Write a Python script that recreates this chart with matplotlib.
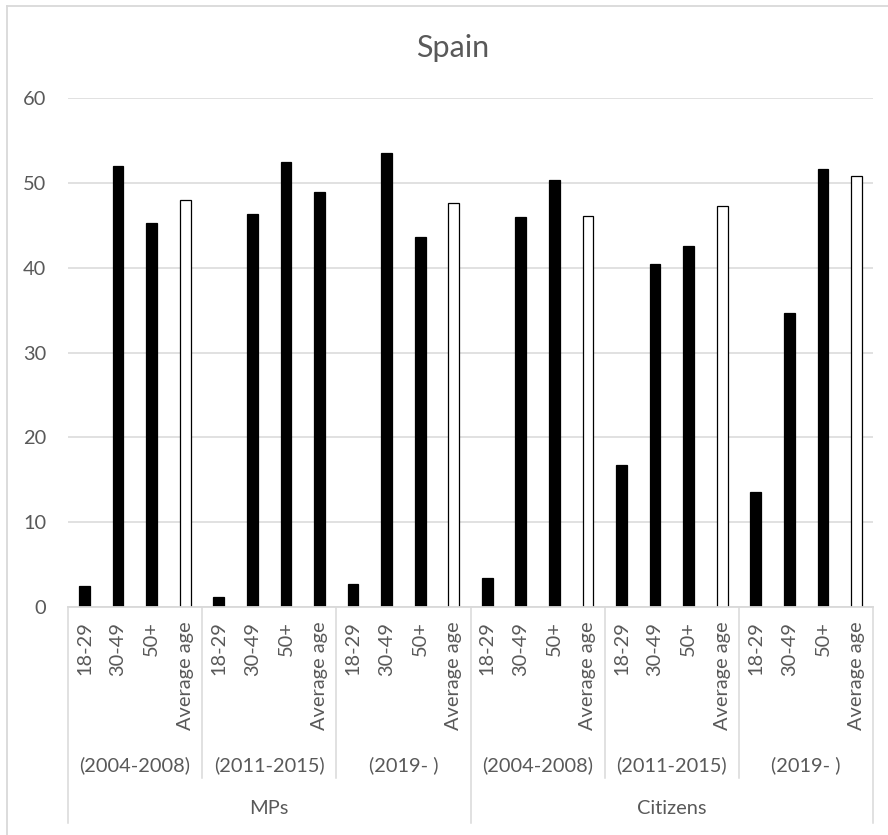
import matplotlib
matplotlib.use("Agg")
import matplotlib.pyplot as plt
import matplotlib.transforms as mtransforms
from matplotlib.lines import Line2D
import numpy as np

# ---- data ----
groups = ["MPs", "Citizens"]
periods = ["(2004-2008)", "(2011-2015)", "(2019- )"]
age_bands = ["18-29", "30-49", "50+", "Average age"]

mps_2004 = [2.5, 52.0, 45.3, 48.0]
mps_2011 = [1.1, 46.3, 52.5, 49.0]
mps_2019 = [2.7, 53.6, 43.6, 47.7]
cit_2004 = [3.4, 46.0, 50.4, 46.1]
cit_2011 = [16.7, 40.5, 42.6, 47.3]
cit_2019 = [13.5, 34.7, 51.6, 50.8]

y_ticks = [0, 10, 20, 30, 40, 50, 60]

series = {
    "MPs": [mps_2004, mps_2011, mps_2019],
    "Citizens": [cit_2004, cit_2011, cit_2019],
}
# average-age bars drawn solid rather than hollow
solid_average = {("MPs", "(2011-2015)")}

# ---- figure ----
W, H = 888, 835
fig = plt.figure(figsize=(W / 100, H / 100), dpi=100)
FONT = "Lato"
TXT = "#595959"
GRID = "#D9D9D9"

def fy(py):
    return 1 - py / H

x0, x1 = 67.7, 873.3
y_zero, y_top = 606.7, 98.3
ax = fig.add_axes([x0 / W, fy(y_zero), (x1 - x0) / W, (y_zero - y_top) / H])

values, faces, labels = [], [], []
for g in groups:
    for p, vals in zip(periods, series[g]):
        for band, v in zip(age_bands, vals):
            values.append(v)
            labels.append(band)
            if band == "Average age" and (g, p) not in solid_average:
                faces.append("white")
            else:
                faces.append("black")

n = len(values)
xs = np.arange(n)
ax.bar(xs, values, width=0.32, color=faces, edgecolor="black",
       linewidth=0.9, zorder=3)

ax.set_xlim(-0.5, n - 0.5)
ax.set_ylim(0, 60)
ax.set_yticks(y_ticks)
ax.set_yticklabels([str(t) for t in y_ticks], fontfamily=FONT,
                   fontsize=14.4, color=TXT)
ax.tick_params(axis="y", length=0, pad=15.5)
ax.set_xticks([])
for s in ax.spines.values():
    s.set_visible(False)
ax.grid(axis="y", color=GRID, linewidth=1.1, zorder=0)
ax.set_axisbelow(True)

# ---- multi-level category axis ----
bt = mtransforms.blended_transform_factory(ax.transData, fig.transFigure)

ax.add_line(Line2D([-0.5, n - 0.5], [fy(y_zero)] * 2, transform=bt,
                   color=GRID, linewidth=1.3, clip_on=False, zorder=4))

for x, lab in zip(xs, labels):
    ax.text(x, fy(621.5), lab, transform=bt, rotation=90, ha="center",
            va="top", fontfamily=FONT, fontsize=14.4, color=TXT)

per_group = len(periods) * len(age_bands)
for gi, g in enumerate(groups):
    g_start = gi * per_group - 0.5
    ax.text(g_start + per_group / 2, fy(808), g, transform=bt, ha="center",
            va="center", fontfamily=FONT, fontsize=14.4, color=TXT)
    for pi, p in enumerate(periods):
        p_start = g_start + pi * len(age_bands)
        ax.text(p_start + len(age_bands) / 2, fy(765), p, transform=bt,
                ha="center", va="center", fontfamily=FONT, fontsize=14.4,
                color=TXT)
        if pi > 0:
            ax.add_line(Line2D([p_start] * 2, [fy(y_zero), fy(778)],
                               transform=bt, color=GRID, linewidth=1.1,
                               clip_on=False))
for b in range(len(groups) + 1):
    xb = b * per_group - 0.5
    ax.add_line(Line2D([xb] * 2, [fy(y_zero), fy(823)], transform=bt,
                       color=GRID, linewidth=1.1, clip_on=False))

# ---- title and chart frame ----
fig.text(453 / W, fy(57.5), "Spain", ha="center", va="baseline",
         fontfamily=FONT, fontsize=22, color=TXT)
fig.add_artist(Line2D([7.3 / W, 7.3 / W], [fy(6), 0], transform=fig.transFigure,
                      color=GRID, linewidth=1.3))
fig.add_artist(Line2D([7.3 / W, 1], [fy(6), fy(6)], transform=fig.transFigure,
                      color=GRID, linewidth=1.3))

fig.savefig("out.png", dpi=100, facecolor="white")
